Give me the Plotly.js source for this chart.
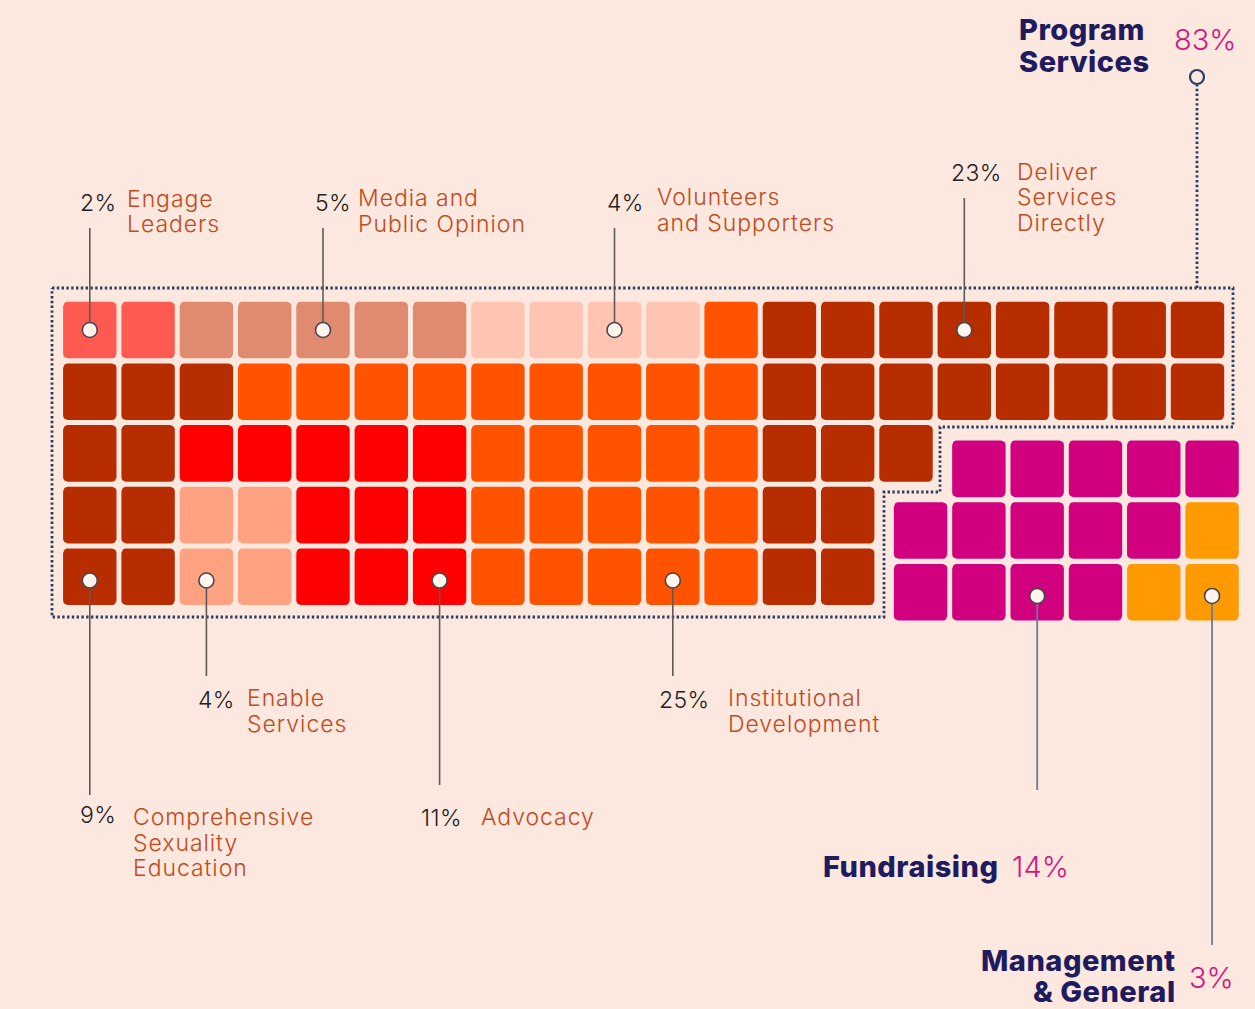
<!DOCTYPE html>
<html><head><meta charset="utf-8">
<script src="https://cdn.plot.ly/plotly-3.0.1.min.js"></script>
<style>html,body{margin:0;padding:0;background:#FCE8DE;} #chart{width:1255px;height:1009px;}</style>
</head><body><div id="chart"></div><script>
// ---------------- DATA ----------------
const categories = ['Engage Leaders','Media and Public Opinion','Volunteers and Supporters','Deliver Services Directly','Comprehensive Sexuality Education','Enable Services','Advocacy','Institutional Development','Fundraising','Management & General'];
const codes      = ['E','M','V','D','C','N','A','I','F','G'];
const percents   = [2, 5, 4, 23, 9, 4, 11, 25, 14, 3];
const colors     = ['#FF5A52','#E08B70','#FFC4B2','#B72D00','#B72D00','#FFA282','#FF0000','#FF5300','#D1007F','#FF9A00'];
// label lines for each category
const labelLines = [['Engage','Leaders'],['Media and','Public Opinion'],['Volunteers','and Supporters'],['Deliver','Services','Directly'],['Comprehensive','Sexuality','Education'],['Enable','Services'],['Advocacy'],['Institutional','Development'],['Fundraising'],['Management','& General']];
// waffle cells (one letter per 1%)
const programGrid = [
  'EEMMMMMVVVVIDDDDDDDD',
  'CCCIIIIIIIIIDDDDDDDD',
  'CCAAAAAIIIIIDDD',
  'CCNNAAAIIIIIDD',
  'CCNNAAAIIIIIDD'
];
const otherGrid = [
  ' FFFFF',
  'FFFFFG',
  'FFFFGG'
];
// cell holding each category's marker: [block, row, col]
const markerCells = [['p',0,0],['p',0,4],['p',0,9],['p',0,15],['p',4,0],['p',4,2],['p',4,6],['p',4,10],['o',2,2],['o',2,5]];
const groupNames = ['Program\nServices','Fundraising','Management\n& General'];
const groupMembers = [[0,1,2,3,4,5,6,7],[8],[9]];

// ---------------- LAYOUT HELPERS ----------------
const W = 1255, H = 1009;
const X0 = 89.8, PX = 58.3, Y0 = 330, PY = 61.7;      // pixel position of cell (0,0) centre and pitch
const px2x = p => (p - X0) / PX;
const py2y = p => (p - Y0) / PY;
const blockOrigin = {p:[0,0], o:[14.25,2.25]};
const HX = 26.7/PX, HY = 28.3/PY, RX = 4.5/PX, RY = 4.5/PY;

function roundedRect(cx, cy, xs, ys) {
  const pts = [];
  const corners = [[cx+HX-RX, cy-HY+RY, -Math.PI/2, 0],[cx+HX-RX, cy+HY-RY, 0, Math.PI/2],[cx-HX+RX, cy+HY-RY, Math.PI/2, Math.PI],[cx-HX+RX, cy-HY+RY, Math.PI, 1.5*Math.PI]];
  corners.forEach(([ox, oy, a0, a1]) => {
    for (let i = 0; i <= 4; i++) {
      const a = a0 + (a1 - a0) * i / 4;
      pts.push([ox + RX*Math.cos(a), oy + RY*Math.sin(a)]);
    }
  });
  pts.forEach(p => { xs.push(p[0]); ys.push(p[1]); });
  xs.push(pts[0][0]); ys.push(pts[0][1]);
  xs.push(null); ys.push(null);
}

function cellPos(block, r, c) {
  const o = blockOrigin[block];
  return [o[0] + c, o[1] + r];
}

const traces = [];
codes.forEach((code, k) => {
  const xs = [], ys = [];
  [['p', programGrid], ['o', otherGrid]].forEach(([b, grid]) => {
    grid.forEach((row, r) => {
      [...row].forEach((ch, c) => {
        if (ch === code) { const [x, y] = cellPos(b, r, c); roundedRect(x, y, xs, ys); }
      });
    });
  });
  traces.push({type:'scatter', mode:'lines', x:xs, y:ys, fill:'toself', fillcolor:colors[k],
    line:{width:0, color:colors[k]}, hoverinfo:'skip', name:categories[k]});
});

// outline around Program Services
const outlinePx = [[52,288],[1233,288],[1233,427],[940,427],[940,492],[884,492],[884,617],[52,617],[52,288]];
traces.push({type:'scatter', mode:'lines', x:outlinePx.map(p=>px2x(p[0])), y:outlinePx.map(p=>py2y(p[1])),
  line:{color:'#2A3F63', width:2.8, dash:'2.4px,2.4px'}, hoverinfo:'skip'});
traces.push({type:'scatter', mode:'lines', x:[px2x(1197),px2x(1197)], y:[py2y(288),py2y(85)],
  line:{color:'#2A3F63', width:2.8, dash:'2.4px,2.4px'}, hoverinfo:'skip'});
traces.push({type:'scatter', mode:'markers', x:[px2x(1197)], y:[py2y(77)],
  marker:{symbol:'circle', size:14, color:'#FCE8DE', line:{color:'#2A3F63', width:2.2}}, hoverinfo:'skip'});

// leader lines and label positions (pixels)
const leaderEnd = [228,228,228,198,795,676,785,676,790,945];
const pctPos  = [[78,203],[313,203],[605,203],[949,173],[78,815],[196,700],[419,818],[657,700]];
const namePos = [[125,199],[356,198],[655,197],[1015,172],[131,817],[245,698],[479,817],[726,698]];
const lineGap = 25.5;

const lx = [], ly = [], lx2 = [], ly2 = [], mx = [], my = [];
markerCells.forEach(([b, r, c], k) => {
  const [x, y] = cellPos(b, r, c);
  const tx = k >= 8 ? lx2 : lx, ty = k >= 8 ? ly2 : ly;
  tx.push(x, x, null); ty.push(y, py2y(leaderEnd[k]), null);
  mx.push(x); my.push(y + (r > 0 ? 0.06 : 0));
});
traces.push({type:'scatter', mode:'lines', x:lx, y:ly, line:{color:'#5E5A58', width:1.6}, hoverinfo:'skip'});
traces.push({type:'scatter', mode:'lines', x:lx2, y:ly2, line:{color:'#6B7B90', width:1.8}, hoverinfo:'skip'});
traces.push({type:'scatter', mode:'markers', x:mx, y:my,
  marker:{symbol:'circle', size:15, color:'#FFF4EE', line:{color:'#4A4646', width:1.6}}, hoverinfo:'skip'});

// ---------------- TEXT ----------------
const fontReg = 'Inter, "Open Sans", sans-serif';
const ann = [];
function addText(text, x, y, color, size, xanchor, weight, ls) {
  const t = ls ? '<span style="letter-spacing:' + ls + 'px">' + text + '</span>' : text;
  ann.push({text:t, xref:'paper', yref:'paper', x:x/W, y:1-y/H, xanchor:xanchor||'left', yanchor:'middle',
    showarrow:false, font:{family:fontReg, size:size, color:color, weight:weight||400}});
}
for (let k = 0; k < 8; k++) {
  addText(percents[k] + '%', pctPos[k][0], pctPos[k][1], '#222222', 23, 'left', 300, 0.4);
  labelLines[k].forEach((t, i) => addText(t, namePos[k][0], namePos[k][1] + i*lineGap, '#C24A1C', 23, 'left', 300, 0.95));
}
const sum = idx => idx.reduce((s, i) => s + percents[i], 0);
const navy = '#1E1B5E', pink = '#D4157F';
// Program Services
groupNames[0].split('\n').forEach((t, i) => addText(t, 1017, 30 + i*32, navy, 29, 'left', 800, 0.5));
addText(sum(groupMembers[0]) + '%', 1172, 40, pink, 29, 'left', 300);
// Fundraising
addText(groupNames[1], 821, 866, navy, 29, 'left', 800, 0.5);
addText(sum(groupMembers[1]) + '%', 1010, 866, pink, 29, 'left', 300);
// Management
groupNames[2].split('\n').forEach((t, i) => addText(t, 1178, 960 + i*31, navy, 29, 'right', 800, 0.5));
addText(sum(groupMembers[2]) + '%', 1187, 977, pink, 29, 'left', 300);

const layout = {
  width: W, height: H, margin:{l:0, r:0, t:0, b:0, pad:0},
  paper_bgcolor:'#FCE8DE', plot_bgcolor:'#FCE8DE', showlegend:false,
  xaxis:{range:[px2x(0), px2x(W)], visible:false, fixedrange:true},
  yaxis:{range:[py2y(H), py2y(0)], visible:false, fixedrange:true},
  annotations: ann
};
Plotly.newPlot('chart', traces, layout, {staticPlot:true, displayModeBar:false});
</script></body></html>
